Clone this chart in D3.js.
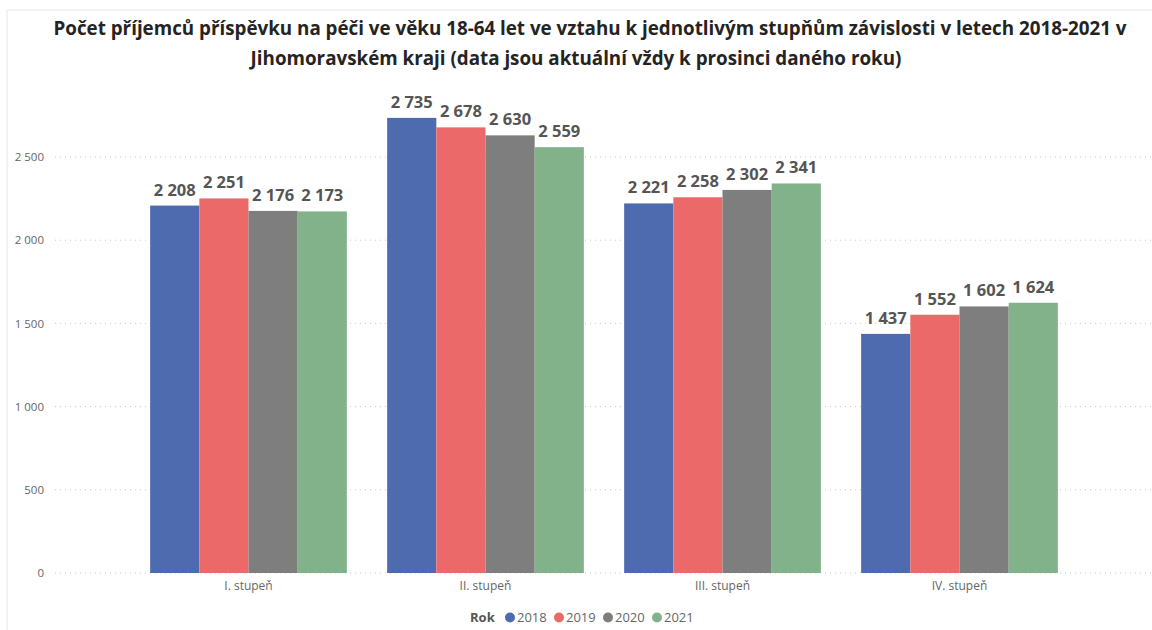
<!DOCTYPE html>
<html>
<head>
<meta charset="utf-8">
<script src="https://cdn.jsdelivr.net/npm/d3@7"></script>
<style>
  body { margin: 0; background: #fff; }
  svg { font-family: "Open Sans", "Noto Sans", sans-serif; }
</style>
</head>
<body>
<div id="chart"></div>
<script>
const categories = ["I. stupeň", "II. stupeň", "III. stupeň", "IV. stupeň"];
const years = ["2018", "2019", "2020", "2021"];
const values2018 = [2208, 2735, 2221, 1437];
const values2019 = [2251, 2678, 2258, 1552];
const values2020 = [2176, 2630, 2302, 1602];
const values2021 = [2173, 2559, 2341, 1624];
const yTicks = [0, 500, 1000, 1500, 2000, 2500];
const colors = ["#4F6BB0", "#EB6A69", "#7E7E7E", "#82B28A"];

const series = [values2018, values2019, values2020, values2021];
const width = 1152;
const height = 630;

const svg = d3.select("#chart")
  .append("svg")
  .attr("width", width)
  .attr("height", height)

// frame lines
svg.append("line")
  .attr("x1", 7).attr("x2", width).attr("y1", 10).attr("y2", 10)
  .attr("stroke", "#e6e6e6")
svg.append("line")
  .attr("x1", 7).attr("x2", 7).attr("y1", 10).attr("y2", height)
  .attr("stroke", "#e6e6e6")

// title
const title = svg.append("text")
  .attr("text-anchor", "middle")
  .attr("font-weight", "bold")
  .attr("font-size", 18.8)
  .attr("fill", "#252423")
title.append("tspan").attr("x", 590).attr("y", 35)
  .text("Počet příjemců příspěvku na péči ve věku 18-64 let ve vztahu k jednotlivým stupňům závislosti v letech 2018-2021 v")
title.append("tspan").attr("x", 576).attr("y", 65)
  .text("Jihomoravském kraji (data jsou aktuální vždy k prosinci daného roku)")

const xScale = d3.scaleBand()
  .domain(categories)
  .range([130, 1078])
  .paddingInner(0.17)
  .paddingOuter(0.085)

const innerScale = d3.scaleBand()
  .domain(years)
  .range([0, xScale.bandwidth()])

const yScale = d3.scaleLinear()
  .domain([0, 2500])
  .range([573, 157])

// grid
svg.append("g")
  .selectAll("line")
  .data(yTicks)
  .enter()
  .append("line")
  .attr("x1", 55)
  .attr("x2", width)
  .attr("y1", d => yScale(d))
  .attr("y2", d => yScale(d))
  .attr("stroke", "#c8c8c8")
  .attr("stroke-dasharray", "1,4")

const yAxis = d3.axisLeft(yScale)
  .tickValues(yTicks)
  .tickSize(0)
  .tickPadding(0)
  .tickFormat(d => d3.format(",")(d).replace(/,/g, " "))

svg.append("g")
  .attr("transform", "translate(44, 0)")
  .call(yAxis)
  .call(g => g.select(".domain").remove())
  .selectAll("text")
  .attr("font-size", 11.5)
  .attr("fill", "#666")
  .attr("font-family", "\"Open Sans\", sans-serif")

// bars
const groups = svg.append("g")
  .selectAll("g")
  .data(categories)
  .enter()
  .append("g")
  .attr("transform", d => `translate(${xScale(d)}, 0)`)

groups.selectAll("rect")
  .data((d, i) => years.map((y, j) => ({ year: y, value: series[j][i], idx: j })))
  .enter()
  .append("rect")
  .attr("x", d => innerScale(d.year))
  .attr("y", d => yScale(d.value))
  .attr("width", innerScale.bandwidth())
  .attr("height", d => yScale(0) - yScale(d.value))
  .attr("fill", d => colors[d.idx])

groups.selectAll("text")
  .data((d, i) => years.map((y, j) => ({ year: y, value: series[j][i] })))
  .enter()
  .append("text")
  .attr("x", d => innerScale(d.year) + innerScale.bandwidth() / 2)
  .attr("y", d => yScale(d.value) - 10)
  .attr("text-anchor", "middle")
  .attr("font-size", 16.5)
  .attr("font-weight", "bold")
  .attr("fill", "#555")
  .text(d => d3.format(",")(d.value).replace(/,/g, " "))

const xAxis = d3.axisBottom(xScale).tickSize(0).tickPadding(0)
svg.append("g")
  .attr("transform", "translate(0, 590)")
  .call(xAxis)
  .call(g => g.select(".domain").remove())
  .selectAll("text")
  .attr("font-size", 12)
  .attr("fill", "#666")
  .attr("dy", 0)
  .attr("font-family", "\"Open Sans\", sans-serif")

// legend
const legend = svg.append("g").attr("transform", "translate(0, 622)")
legend.append("text")
  .attr("x", 470)
  .attr("font-size", 13)
  .attr("font-weight", "bold")
  .attr("fill", "#555")
  .text("Rok")
const legendX = [509, 558, 607, 656]
years.forEach((y, i) => {
  legend.append("circle")
    .attr("cx", legendX[i] + 1)
    .attr("cy", -4.5)
    .attr("r", 5)
    .attr("fill", colors[i])
  legend.append("text")
    .attr("x", legendX[i] + 8)
    .attr("font-size", 13)
    .attr("fill", "#666")
    .text(y)
})
</script>
</body>
</html>
